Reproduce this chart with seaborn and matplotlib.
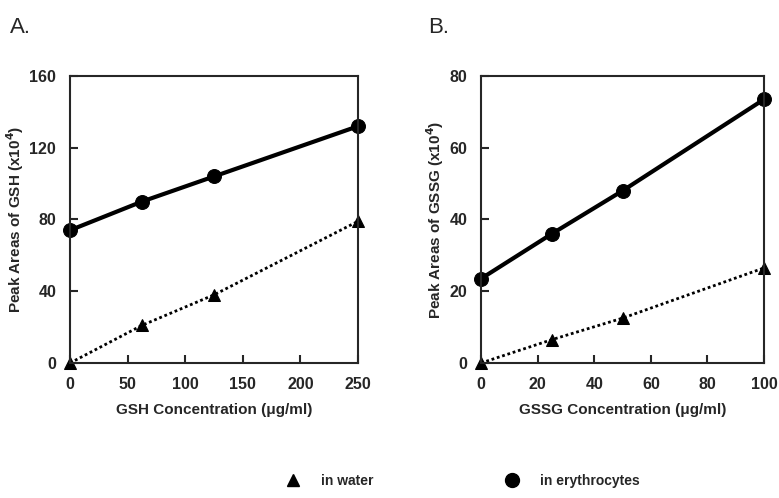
import pandas as pd
import seaborn as sns
import matplotlib.pyplot as plt
from matplotlib.lines import Line2D

# panel A: GSH
gsh_conc = [0, 62.5, 125, 250]
gsh_water = [0, 21, 38, 79]
gsh_ery = [74, 90, 104, 132]

# panel B: GSSG
gssg_conc = [0, 25, 50, 100]
gssg_water = [0, 6.5, 12.5, 26.5]
gssg_ery = [23.5, 36, 48, 73.5]

sns.set_theme(style='ticks')
plt.rcParams['font.family'] = ['Liberation Sans', 'DejaVu Sans']
plt.rcParams['font.weight'] = 'bold'
plt.rcParams['axes.labelweight'] = 'bold'

fig = plt.figure(figsize=(7.79, 4.98), dpi=100)
axA = fig.add_axes([0.0899, 0.2711, 0.3697, 0.5763])
axB = fig.add_axes([0.6175, 0.2711, 0.3633, 0.5763])


def panel(ax, conc, water, ery, xlabel, ylabel, xticks, yticks):
    df = pd.DataFrame({'x': conc, 'water': water, 'ery': ery})
    sns.lineplot(data=df, x='x', y='ery', ax=ax, color='black', lw=3,
                 marker='o', markersize=10, markeredgecolor='black')
    sns.lineplot(data=df, x='x', y='water', ax=ax, color='black', lw=2,
                 linestyle=(0, (1, 1)), marker='^', markersize=8,
                 markeredgecolor='black')
    ax.set_xlim(xticks[0], xticks[-1])
    ax.set_ylim(yticks[0], yticks[-1])
    ax.set_xticks(xticks)
    ax.set_yticks(yticks)
    ax.tick_params(direction='in', length=6, width=1.5, labelsize=11.5,
                   pad=10, top=False, right=False)
    for lab in ax.get_xticklabels() + ax.get_yticklabels():
        lab.set_fontweight('bold')
    for s in ax.spines.values():
        s.set_linewidth(1.5)
        s.set_visible(True)
    ax.set_xlabel(xlabel, fontsize=11, fontweight='bold', labelpad=8)
    ax.set_ylabel(ylabel, fontsize=11, fontweight='bold', labelpad=2)
    for line in ax.get_lines():
        line.set_clip_on(False)


panel(axA, gsh_conc, gsh_water, gsh_ery,
      'GSH Concentration (μg/ml)', 'Peak Areas of GSH (x10$^{\\mathbf{4}}$)',
      [0, 50, 100, 150, 200, 250], [0, 40, 80, 120, 160])
panel(axB, gssg_conc, gssg_water, gssg_ery,
      'GSSG Concentration (μg/ml)', 'Peak Areas of GSSG (x10$^{\\mathbf{4}}$)',
      [0, 20, 40, 60, 80, 100], [0, 20, 40, 60, 80])

fig.text(0.013, 0.945, 'A.', fontsize=16, fontweight='normal', va='center')
fig.text(0.549, 0.945, 'B.', fontsize=16, fontweight='normal', va='center')

handles = [
    Line2D([], [], color='black', marker='^', linestyle='none', markersize=8),
    Line2D([], [], color='black', marker='o', linestyle='none', markersize=10),
]
fig.legend(handles, ['in water', 'in erythrocytes'], loc='center',
           bbox_to_anchor=(0.59, 0.035), ncol=2, frameon=False,
           columnspacing=9, handletextpad=1.0,
           prop={'weight': 'bold', 'size': 10})

fig.savefig('out.png', dpi=100)
